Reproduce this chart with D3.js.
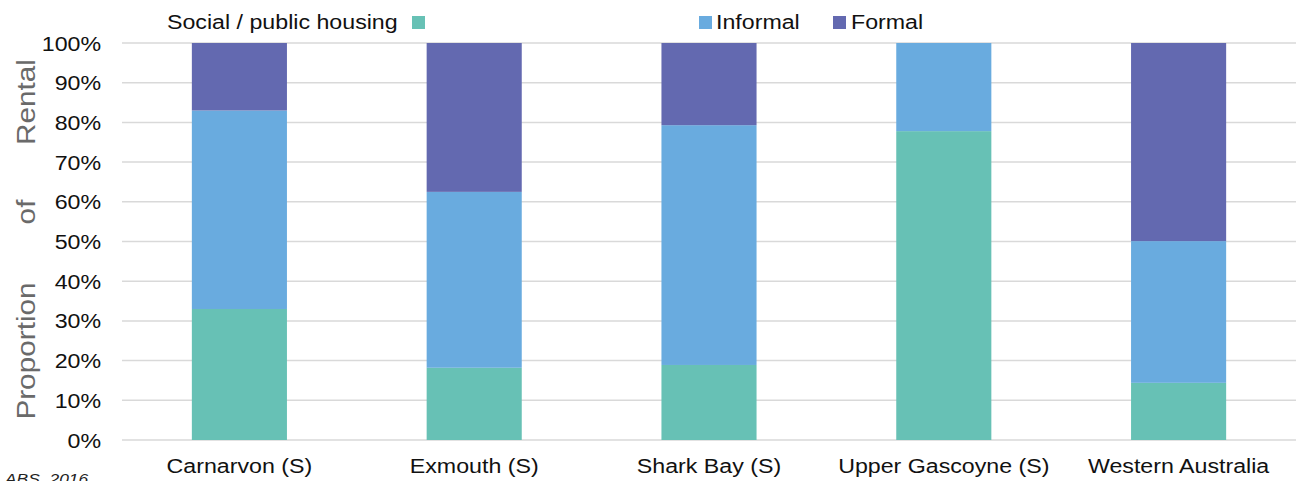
<!DOCTYPE html>
<html>
<head>
<meta charset="utf-8">
<script src="https://cdn.jsdelivr.net/npm/d3@7"></script>
<style>
  body { margin: 0; background: #fff; }
  text { font-family: "Liberation Sans", Arial, sans-serif; }
</style>
</head>
<body>
<div id="chart"></div>
<script>
// data (percent of rentals)
var categories = ["Carnarvon (S)", "Exmouth (S)", "Shark Bay (S)", "Upper Gascoyne (S)", "Western Australia"];
var seriesNames = ["Social / public housing", "Informal", "Formal"];
var socialValues = [33, 18.2, 18.9, 77.8, 14.4];
var informalValues = [50, 44.3, 60.4, 22.2, 35.7];
var formalValues = [17, 37.5, 20.7, 0, 49.9];
var tickValues = [0, 10, 20, 30, 40, 50, 60, 70, 80, 90, 100];
var colors = ["#67c1b5", "#69abdf", "#6369b0"];

var width = 1299, height = 481;
var margin = {top: 43, right: 3, bottom: 41, left: 122};
var innerW = width - margin.left - margin.right;
var innerH = height - margin.top - margin.bottom;
var stretch = "scale(1.16,1)"; // the original text is a bit wider than Arial

var svg = d3.select("#chart").append("svg")
    .attr("width", width)
    .attr("height", height);

var rows = categories.map(function (c, i) {
    return {cat: c, social: socialValues[i], informal: informalValues[i], formal: formalValues[i]};
});
var stack = d3.stack().keys(["social", "informal", "formal"]);
var layers = stack(rows);

var x = d3.scaleBand().domain(categories).range([0, innerW]).paddingInner(0.595).paddingOuter(0.2975);
var y = d3.scaleLinear().domain([0, 100]).range([innerH, 0]);

var g = svg.append("g").attr("transform", "translate(" + margin.left + "," + margin.top + ")");

// gridlines
g.append("g")
    .selectAll("line")
    .data(tickValues)
    .enter()
    .append("line")
    .attr("x1", 0)
    .attr("x2", innerW)
    .attr("y1", function (d) { return y(d); })
    .attr("y2", function (d) { return y(d); })
    .style("stroke", "#d9d9d9")
    .style("stroke-width", "1.5px");

// bars
g.selectAll("g.layer")
    .data(layers)
    .enter()
    .append("g")
    .attr("class", "layer")
    .style("fill", function (d, i) { return colors[i]; })
    .selectAll("rect")
    .data(function (d) { return d; })
    .enter()
    .append("rect")
    .attr("x", function (d) { return x(d.data.cat); })
    .attr("y", function (d) { return y(d[1]); })
    .attr("width", x.bandwidth())
    .attr("height", function (d) { return y(d[0]) - y(d[1]); });

// y axis
var yAxis = d3.axisLeft(y).tickValues(tickValues).tickSize(0).tickPadding(18)
    .tickFormat(function (d) { return d + "%"; });
var yg = g.append("g").call(yAxis);
yg.select(".domain").remove();
yg.selectAll("text")
    .attr("transform", stretch)
    .style("font-size", "20px")
    .style("fill", "#111")
    .attr("dy", "0.35em");

// x axis
var xAxis = d3.axisBottom(x).tickSize(0).tickPadding(19);
var xg = g.append("g").attr("transform", "translate(0," + innerH + ")").call(xAxis);
xg.select(".domain").remove();
xg.selectAll("text")
    .attr("transform", stretch)
    .style("font-size", "20px")
    .style("fill", "#111")
    .attr("dy", "0.71em");

// y title, spaced words
var titleWords = [["Proportion", 351], ["of", 212], ["Rental", 102]];
svg.selectAll("text.ytitle")
    .data(titleWords)
    .enter()
    .append("text")
    .attr("class", "ytitle")
    .attr("transform", function (d) { return "translate(35," + d[1] + ") rotate(-90) scale(1.19,1)"; })
    .attr("text-anchor", "middle")
    .style("font-size", "25px")
    .style("fill", "#6a6a6a")
    .text(function (d) { return d[0]; });

// legend
var legend = svg.append("g");
function legendText(x0, label) {
    legend.append("text")
        .attr("transform", "translate(" + x0 + ",29) " + stretch)
        .style("font-size", "20px")
        .style("fill", "#111")
        .text(label);
}
legendText(167, seriesNames[0]);
legend.append("rect").attr("x", 412).attr("y", 16).attr("width", 13).attr("height", 13).style("fill", colors[0]);
legend.append("rect").attr("x", 699).attr("y", 16).attr("width", 13).attr("height", 13).style("fill", colors[1]);
legendText(716, seriesNames[1]);
legend.append("rect").attr("x", 833).attr("y", 16).attr("width", 13).attr("height", 13).style("fill", colors[2]);
legendText(851, seriesNames[2]);

// source note, cut off at the bottom like the original
svg.append("text")
    .attr("transform", "translate(5,484) " + stretch)
    .style("font-size", "15px")
    .style("font-style", "italic")
    .style("fill", "#222")
    .text("ABS, 2016");
</script>
</body>
</html>
